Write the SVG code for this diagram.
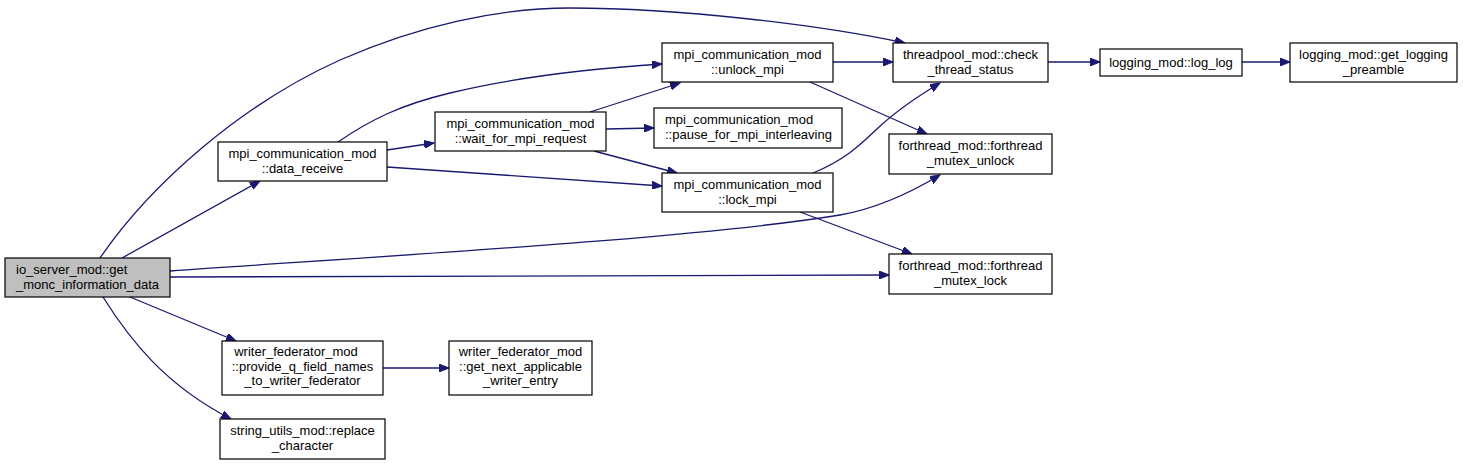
<svg xmlns="http://www.w3.org/2000/svg" width="1463" height="466" viewBox="0 0 1463 466">
<style>
.n rect{fill:#fff;stroke:#000;stroke-width:1.2}
.root rect{fill:#bfbfbf}
text{font-family:"Liberation Sans",Arial,sans-serif;font-size:13px;fill:#000;text-anchor:middle}
text.l{text-anchor:start}
.e path{fill:none;stroke:#191970;stroke-width:1.3;marker-end:url(#a)}
</style>
<defs>
<marker id="a" markerUnits="userSpaceOnUse" markerWidth="11" markerHeight="8" refX="10" refY="4" orient="auto" viewBox="0 0 11 8">
<path d="M0,0 L10,4 L0,8 z" fill="#191970" stroke="#191970" stroke-width="1"/>
</marker>
</defs>
<rect width="1463" height="466" fill="#fff"/>
<g id="edges" class="e">
<path d="M122,258 L260,181"/>
<path d="M100,258 C150,185 240,105 340,60 C420,25 500,8 570,8 C680,8 820,25 905,43"/>
<path d="M170,271 C400,255 700,238 840,215 C880,208 915,190 940,175"/>
<path d="M170,277 L889,275"/>
<path d="M130,297 L236,341"/>
<path d="M103,297 C130,340 165,385 231,419"/>
<path d="M338,142 C370,120 400,105 450,93 C520,76 600,68 662,64"/>
<path d="M387,150 L434,143"/>
<path d="M387,167 L662,186"/>
<path d="M590,112 L680,83"/>
<path d="M606,129 L654,128"/>
<path d="M594,151 L677,173"/>
<path d="M833,62 L893,62"/>
<path d="M810,82 L927,134"/>
<path d="M813,173 C845,160 860,145 878,128 C895,112 915,98 940,83"/>
<path d="M800,212 L912,254"/>
<path d="M1048,62 L1100,62"/>
<path d="M1242,62 L1290,62"/>
<path d="M383,368 L449,368"/>
</g>
<g id="n0" class="n root"><rect x="5" y="258" width="165" height="39"/><text class="l" x="16" y="274">io_server_mod::get</text><text class="l" x="16" y="288.5">_monc_information_data</text></g>
<g id="n1" class="n"><rect x="218" y="142" width="169" height="39"/><text x="302.5" y="158">mpi_communication_mod</text><text x="302.5" y="172.5">::data_receive</text></g>
<g id="n2" class="n"><rect x="435" y="112" width="171" height="39"/><text x="520.5" y="128">mpi_communication_mod</text><text x="520.5" y="142.5">::wait_for_mpi_request</text></g>
<g id="n3" class="n"><rect x="662" y="43" width="171" height="39"/><text x="747.5" y="59">mpi_communication_mod</text><text x="747.5" y="73.5">::unlock_mpi</text></g>
<g id="n4" class="n"><rect x="654" y="108" width="188" height="40"/><text class="l" x="665" y="124">mpi_communication_mod</text><text class="l" x="665" y="138.5">::pause_for_mpi_interleaving</text></g>
<g id="n5" class="n"><rect x="662" y="173" width="171" height="39"/><text x="747.5" y="189">mpi_communication_mod</text><text x="747.5" y="203.5">::lock_mpi</text></g>
<g id="n6" class="n"><rect x="893" y="43" width="155" height="39"/><text x="970.5" y="59">threadpool_mod::check</text><text x="970.5" y="73.5">_thread_status</text></g>
<g id="n7" class="n"><rect x="889" y="134" width="163" height="40"/><text x="970.5" y="150">forthread_mod::forthread</text><text x="970.5" y="164.5">_mutex_unlock</text></g>
<g id="n8" class="n"><rect x="889" y="254" width="163" height="40"/><text x="970.5" y="270">forthread_mod::forthread</text><text x="970.5" y="284.5">_mutex_lock</text></g>
<g id="n9" class="n"><rect x="1100" y="49" width="142" height="27"/><text x="1171" y="67">logging_mod::log_log</text></g>
<g id="n10" class="n"><rect x="1290" y="43" width="167" height="39"/><text x="1373.5" y="59">logging_mod::get_logging</text><text x="1373.5" y="73.5">_preamble</text></g>
<g id="n11" class="n"><rect x="222" y="341" width="161" height="54"/><text x="296" y="356">writer_federator_mod</text><text x="302.5" y="370.5">::provide_q_field_names</text><text x="302.5" y="385">_to_writer_federator</text></g>
<g id="n12" class="n"><rect x="449" y="341" width="143" height="54"/><text x="520.5" y="356">writer_federator_mod</text><text x="520.5" y="370.5">::get_next_applicable</text><text x="520.5" y="385">_writer_entry</text></g>
<g id="n13" class="n"><rect x="220" y="419" width="165" height="40"/><text x="302.5" y="435">string_utils_mod::replace</text><text x="302.5" y="449.5">_character</text></g>
</svg>
